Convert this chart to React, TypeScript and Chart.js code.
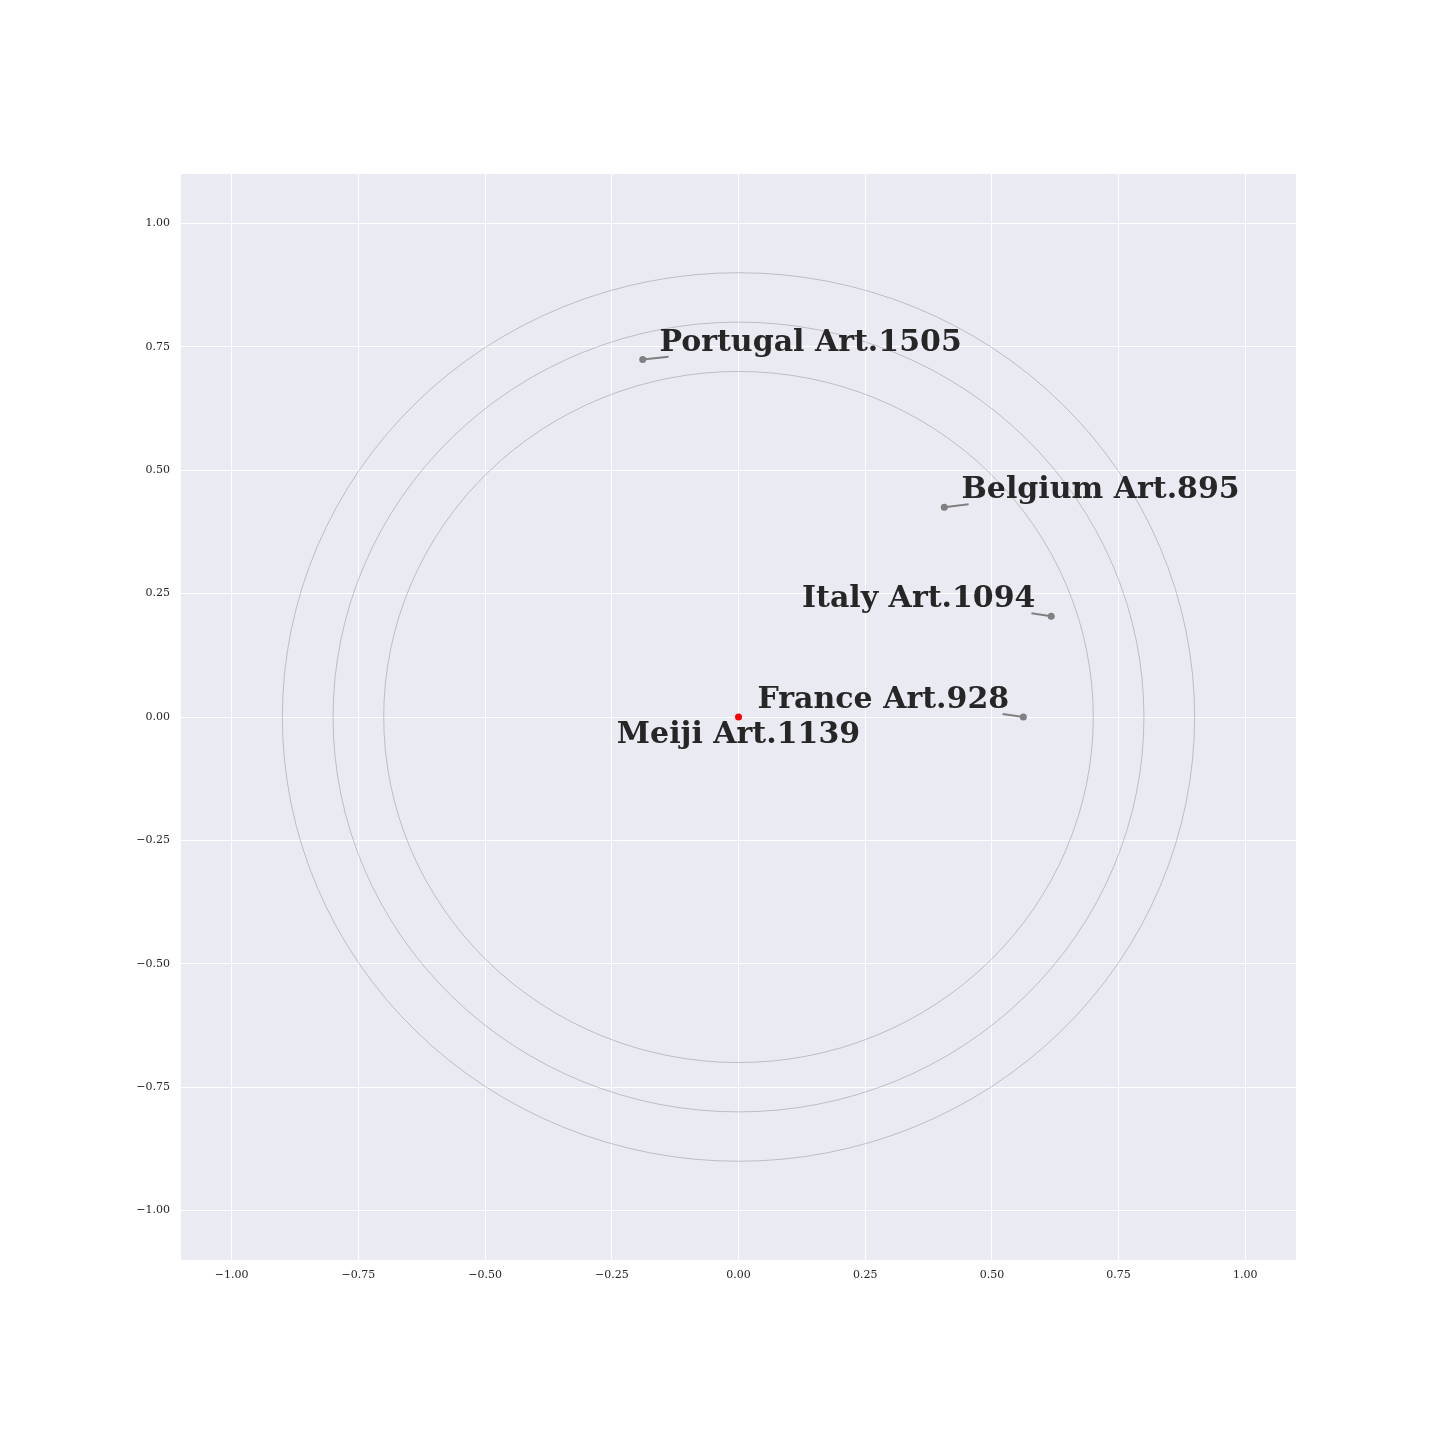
import React, { useEffect, useRef } from "react";
import { Chart, registerables } from "chart.js";

Chart.register(...registerables);

const names = ["Meiji Art.1139", "France Art.928", "Italy Art.1094", "Belgium Art.895", "Portugal Art.1505"];
const pointX = [0, 0.562, 0.617, 0.406, -0.189];
const pointY = [0, 0, 0.204, 0.425, 0.724];
const pointColors = ["#ff0000", "#808080", "#808080", "#808080", "#808080"];
// label anchors (data coords) and connector ends
const labelX = [0, 0.0375, 0.586, 0.44, -0.156];
const labelY = [-0.053, 0.018, 0.222, 0.443, 0.742];
const labelAlign = ["center", "left", "right", "left", "left"];
const lineEndX = [null, 0.521, 0.578, 0.454, -0.138];
const lineEndY = [null, 0.006, 0.21, 0.431, 0.73];
const circleRadii = [0.7, 0.8, 0.9];
const tickValues = [-1, -0.75, -0.5, -0.25, 0, 0.25, 0.5, 0.75, 1];

const fmt = (v: number) => {
  const s = Math.abs(v).toFixed(2);
  return v < 0 ? "\u2212" + s : s;
};

const bgPlugin = {
  id: "bgPlugin",
  beforeDraw(chart: any) {
    const { ctx, chartArea } = chart;
    ctx.save();
    ctx.fillStyle = "#EAEAF2";
    ctx.fillRect(chartArea.left, chartArea.top, chartArea.right - chartArea.left, chartArea.bottom - chartArea.top);
    ctx.restore();
  },
  beforeDatasetsDraw(chart: any) {
    const { ctx } = chart;
    const xs = chart.scales.x;
    const ys = chart.scales.y;
    const cx = xs.getPixelForValue(0);
    const cy = ys.getPixelForValue(0);
    ctx.save();
    ctx.strokeStyle = "rgba(128,128,128,0.85)";
    ctx.lineWidth = 0.5;
    circleRadii.forEach((r) => {
      const rx = Math.abs(xs.getPixelForValue(r) - cx);
      const ry = Math.abs(ys.getPixelForValue(r) - cy);
      ctx.beginPath();
      ctx.ellipse(cx, cy, rx, ry, 0, 0, Math.PI * 2);
      ctx.stroke();
    });
    // connectors
    ctx.strokeStyle = "#808080";
    ctx.lineWidth = 2;
    names.forEach((_, i) => {
      const ex = lineEndX[i];
      const ey = lineEndY[i];
      if (ex === null || ey === null) return;
      ctx.beginPath();
      ctx.moveTo(xs.getPixelForValue(pointX[i]), ys.getPixelForValue(pointY[i]));
      ctx.lineTo(xs.getPixelForValue(ex), ys.getPixelForValue(ey));
      ctx.stroke();
    });
    ctx.restore();
  },
  afterDatasetsDraw(chart: any) {
    const { ctx } = chart;
    const xs = chart.scales.x;
    const ys = chart.scales.y;
    ctx.save();
    ctx.fillStyle = "#262626";
    ctx.font = "bold 30px 'DejaVu Serif'";
    ctx.textBaseline = "alphabetic";
    names.forEach((n, i) => {
      ctx.textAlign = labelAlign[i] as CanvasTextAlign;
      ctx.fillText(n, xs.getPixelForValue(labelX[i]), ys.getPixelForValue(labelY[i]));
    });
    ctx.restore();
  },
};

export default function App() {
  const ref = useRef<HTMLCanvasElement>(null);
  useEffect(() => {
    if (!ref.current) return;
    const chart = new Chart(ref.current, {
      type: "scatter",
      data: {
        datasets: [
          {
            data: pointX.map((x, i) => ({ x, y: pointY[i] })),
            backgroundColor: pointColors,
            borderColor: pointColors,
            pointRadius: 3.5,
            pointBorderWidth: 0,
          },
        ],
      },
      options: {
        animation: false,
        responsive: false,
        maintainAspectRatio: false,
        layout: { padding: { left: 0, top: 174, right: 144, bottom: 150 } },
        plugins: { legend: { display: false }, tooltip: { enabled: false } },
        scales: {
          x: {
            type: "linear",
            min: -1.1,
            max: 1.1,
            afterBuildTicks: (s: any) => {
              s.ticks = tickValues.map((v) => ({ value: v }));
            },
            afterFit: (s: any) => {
              s.height = 30;
            },
            grid: { color: "#ffffff", lineWidth: 1, drawTicks: false },
            border: { display: false },
            ticks: {
              padding: 9,
              color: "#262626",
              font: { family: "'DejaVu Serif'", size: 11 },
              maxRotation: 0,
              callback: (v: any) => fmt(Number(v)),
            },
          },
          y: {
            type: "linear",
            min: -1.1,
            max: 1.1,
            afterBuildTicks: (s: any) => {
              s.ticks = tickValues.map((v) => ({ value: v }));
            },
            afterFit: (s: any) => {
              s.width = 181;
            },
            grid: { color: "#ffffff", lineWidth: 1, drawTicks: false },
            border: { display: false },
            ticks: {
              padding: 11,
              color: "#262626",
              font: { family: "'DejaVu Serif'", size: 11 },
              callback: (v: any) => fmt(Number(v)),
            },
          },
        },
      },
      plugins: [bgPlugin],
    });
    return () => chart.destroy();
  }, []);
  return (
    <div style={{ position: "absolute", left: 0, top: 0, width: 1440, height: 1440, background: "#fff" }}>
      <canvas ref={ref} width={1440} height={1440} style={{ width: 1440, height: 1440 }} />
    </div>
  );
}
